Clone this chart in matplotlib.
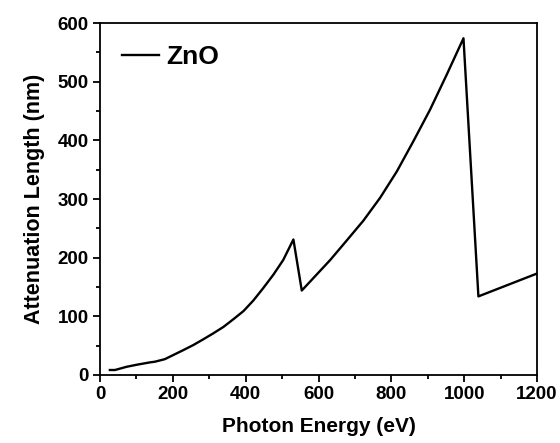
import numpy as np
import matplotlib.pyplot as plt
from matplotlib.ticker import MultipleLocator

plt.rcParams['font.family'] = ['Liberation Sans', 'DejaVu Sans']
plt.rcParams['font.weight'] = 'bold'

# attenuation length of ZnO vs photon energy (O K edge ~530 eV, Zn L edge ~1000 eV)
energy = [27, 41, 73, 101, 137, 151, 178, 201, 229, 256, 284, 311, 339, 366, 394,
          421, 448, 476, 503, 531, 554, 590, 632, 677, 723, 769, 815, 860, 906,
          952, 998, 1039, 1200]
atten = [8.5, 8.5, 14, 17.5, 21.5, 22.7, 27, 34, 42.5, 51, 61, 71, 82, 95, 109,
         127, 148, 171, 196, 231, 144, 168, 196, 229, 263, 302, 347, 398, 452,
         512, 574, 134, 173]

fig = plt.figure(figsize=(5.6, 4.43), dpi=100)
ax = fig.add_axes([0.1786, 0.1535, 0.7804, 0.7945])

ax.plot(energy, atten, color='black', lw=1.7, label='ZnO')

ax.set_xlim(0, 1200)
ax.set_ylim(0, 600)
ax.xaxis.set_major_locator(MultipleLocator(200))
ax.xaxis.set_minor_locator(MultipleLocator(100))
ax.yaxis.set_major_locator(MultipleLocator(100))
ax.yaxis.set_minor_locator(MultipleLocator(50))
ax.tick_params(which='major', direction='out', length=5, width=1.3, labelsize=13.5, pad=3)
ax.tick_params(which='minor', direction='out', length=3, width=1.3)
for sp in ax.spines.values():
    sp.set_linewidth(1.3)

ax.set_xlabel('Photon Energy (eV)', fontsize=15, fontweight='bold', labelpad=10)
ax.set_ylabel('Attenuation Length (nm)', fontsize=15.5, fontweight='bold', labelpad=9)

ax.legend(loc='upper left', frameon=False, prop={'size': 19, 'weight': 'bold'},
          handlelength=1.4, handletextpad=0.25, borderaxespad=0.45)

plt.savefig('out.png', dpi=100)
